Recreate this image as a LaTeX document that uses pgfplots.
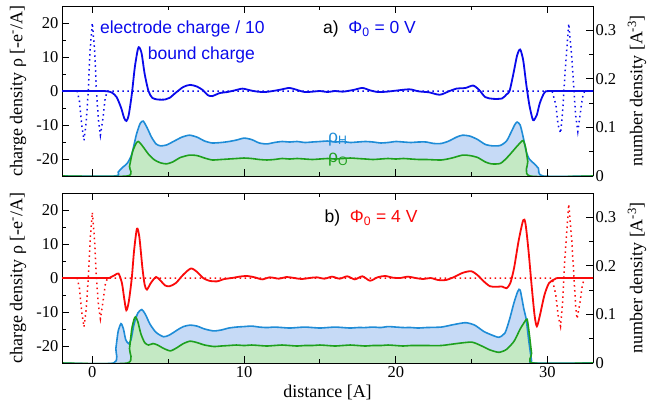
\documentclass[border=0pt]{standalone}
\usepackage{fontspec}
\setmainfont{Liberation Serif}
\newfontfamily\sansf{Liberation Sans}
\usepackage{pgfplots}
\pgfplotsset{compat=1.18}
\definecolor{hline}{RGB}{30,140,215}
\definecolor{hfill}{RGB}{198,218,246}
\definecolor{oline}{RGB}{30,160,30}
\definecolor{ofill}{RGB}{196,233,196}
\definecolor{bcol}{RGB}{10,10,235}
\definecolor{rcol}{RGB}{250,10,10}
\pgfplotsset{
  base/.style={scale only axis, width=531pt, height=170pt, xmin=-2, xmax=33,
    axis line style={line width=1pt},
    every tick/.style={line width=0.9pt, black},
    major tick length=7pt, minor tick length=4pt,
    tick label style={font=\rmfamily\fontsize{16.5}{19}\selectfont},
    /pgf/number format/assume math mode=true},
  leftax/.style={base, ymin=-25, ymax=25, axis y line*=left,
    ytick={-20,-10,0,10,20}, minor ytick={-15,-5,5,15},
    xtick={0,10,20,30}, minor xtick={5,15,25}, xtick pos=both, ytick pos=left},
  rightax/.style={base, ymin=0, ymax=0.35, axis y line*=right, axis x line=none,
    ytick={0,0.1,0.2,0.3}, minor ytick={0.05,0.15,0.25}, scaled y ticks=false,
    yticklabel style={/pgf/number format/fixed, xshift=-1pt}},
  cline/.style={line width=1.8pt, smooth, tension=0.45},
  dline/.style={line width=1.5pt, dash pattern=on 1.5pt off 3.5pt},
  dens/.style={line width=1.6pt, smooth, tension=0.4},
}
\begin{document}
\begin{tikzpicture}[x=1pt,y=1pt]
% ================= TOP PANEL =================
\begin{axis}[rightax, at={(62pt,-6pt)}, anchor=north west]
\addplot[fill=hfill, draw=none, smooth, tension=0.4] coordinates {
(-2,0)(1.5,0)(1.7,0.008)(2.0,0.018)(2.3,0.026)(2.6,0.045)(2.9,0.085)(3.15,0.108)(3.35,0.113)(3.6,0.1)(3.9,0.08)(4.2,0.066)(4.5,0.062)(4.9,0.064)(5.4,0.072)(5.9,0.08)(6.4,0.084)(6.9,0.08)(7.4,0.072)(7.9,0.068)(8.5,0.069)(9.0,0.071)(9.5,0.074)(10.0,0.078)(10.5,0.075)(11.0,0.068)(11.5,0.066)(12.0,0.069)(12.5,0.071)(13.0,0.070)(13.5,0.071)(14.0,0.069)(14.5,0.070)(15.0,0.071)(15.5,0.072)(16.0,0.070)(16.5,0.071)(17.0,0.069)(17.5,0.070)(18.0,0.071)(18.5,0.070)(19.0,0.068)(19.5,0.069)(20.0,0.071)(20.5,0.070)(21.0,0.069)(21.5,0.070)(22.0,0.070)(22.5,0.067)(23.0,0.067)(23.5,0.072)(24.0,0.080)(24.4,0.084)(24.9,0.082)(25.4,0.075)(25.9,0.065)(26.4,0.062)(26.9,0.063)(27.3,0.072)(27.6,0.09)(27.85,0.106)(28.0,0.111)(28.2,0.105)(28.4,0.08)(28.6,0.05)(28.8,0.035)(29.1,0.026)(29.4,0.016)(29.7,0)(33,0)} \closedcycle;
\addplot[fill=ofill, draw=none, smooth, tension=0.4] coordinates {
(-2,0)(2.3,0)(2.45,0.02)(2.65,0.05)(2.9,0.068)(3.05,0.071)(3.3,0.062)(3.7,0.045)(4.1,0.033)(4.5,0.027)(4.9,0.025)(5.3,0.029)(5.8,0.038)(6.4,0.043)(6.9,0.042)(7.4,0.037)(7.9,0.033)(8.5,0.034)(9.0,0.035)(9.5,0.036)(10.0,0.037)(10.5,0.036)(11.0,0.034)(11.5,0.033)(12.0,0.034)(12.5,0.036)(13.0,0.035)(13.5,0.036)(14.0,0.035)(14.5,0.034)(15.0,0.035)(15.5,0.036)(16.0,0.035)(16.5,0.036)(17.0,0.037)(17.5,0.036)(18.0,0.035)(18.5,0.034)(19.0,0.035)(19.5,0.036)(20.0,0.035)(20.5,0.036)(21.0,0.035)(21.5,0.034)(22.0,0.034)(23.0,0.033)(23.7,0.037)(24.4,0.043)(24.9,0.042)(25.4,0.038)(25.9,0.029)(26.3,0.025)(26.9,0.026)(27.4,0.04)(27.9,0.058)(28.25,0.07)(28.4,0.073)(28.55,0.06)(28.7,0.03)(28.85,0)(33,0)} \closedcycle;
\addplot[dens, hline] coordinates {
(-2,0)(1.5,0)(1.7,0.008)(2.0,0.018)(2.3,0.026)(2.6,0.045)(2.9,0.085)(3.15,0.108)(3.35,0.113)(3.6,0.1)(3.9,0.08)(4.2,0.066)(4.5,0.062)(4.9,0.064)(5.4,0.072)(5.9,0.08)(6.4,0.084)(6.9,0.08)(7.4,0.072)(7.9,0.068)(8.5,0.069)(9.0,0.071)(9.5,0.074)(10.0,0.078)(10.5,0.075)(11.0,0.068)(11.5,0.066)(12.0,0.069)(12.5,0.071)(13.0,0.070)(13.5,0.071)(14.0,0.069)(14.5,0.070)(15.0,0.071)(15.5,0.072)(16.0,0.070)(16.5,0.071)(17.0,0.069)(17.5,0.070)(18.0,0.071)(18.5,0.070)(19.0,0.068)(19.5,0.069)(20.0,0.071)(20.5,0.070)(21.0,0.069)(21.5,0.070)(22.0,0.070)(22.5,0.067)(23.0,0.067)(23.5,0.072)(24.0,0.080)(24.4,0.084)(24.9,0.082)(25.4,0.075)(25.9,0.065)(26.4,0.062)(26.9,0.063)(27.3,0.072)(27.6,0.09)(27.85,0.106)(28.0,0.111)(28.2,0.105)(28.4,0.08)(28.6,0.05)(28.8,0.035)(29.1,0.026)(29.4,0.016)(29.7,0)(33,0)};
\addplot[dens, oline] coordinates {
(-2,0)(2.3,0)(2.45,0.02)(2.65,0.05)(2.9,0.068)(3.05,0.071)(3.3,0.062)(3.7,0.045)(4.1,0.033)(4.5,0.027)(4.9,0.025)(5.3,0.029)(5.8,0.038)(6.4,0.043)(6.9,0.042)(7.4,0.037)(7.9,0.033)(8.5,0.034)(9.0,0.035)(9.5,0.036)(10.0,0.037)(10.5,0.036)(11.0,0.034)(11.5,0.033)(12.0,0.034)(12.5,0.036)(13.0,0.035)(13.5,0.036)(14.0,0.035)(14.5,0.034)(15.0,0.035)(15.5,0.036)(16.0,0.035)(16.5,0.036)(17.0,0.037)(17.5,0.036)(18.0,0.035)(18.5,0.034)(19.0,0.035)(19.5,0.036)(20.0,0.035)(20.5,0.036)(21.0,0.035)(21.5,0.034)(22.0,0.034)(23.0,0.033)(23.7,0.037)(24.4,0.043)(24.9,0.042)(25.4,0.038)(25.9,0.029)(26.3,0.025)(26.9,0.026)(27.4,0.04)(27.9,0.058)(28.25,0.07)(28.4,0.073)(28.55,0.06)(28.7,0.03)(28.85,0)(33,0)};
\end{axis}
\begin{axis}[leftax, name=top, at={(62pt,-6pt)}, anchor=north west, xticklabels={}]
\addplot[dline, bcol] coordinates {
(-2,0)(-1,0)(-0.85,-3)(-0.7,-10)(-0.55,-14.5)(-0.4,-9)(-0.27,0)(-0.15,12)(0,20)(0.15,12)(0.27,0)(0.4,-8.5)(0.53,-13)(0.7,-8)(0.85,-2)(1,0)(30.3,0)(30.55,-4)(30.7,-10)(30.86,-12.4)(31.0,-6)(31.15,5)(31.4,19.8)(31.6,10)(31.75,0)(31.85,-7)(32.0,-11.9)(32.15,-7)(32.3,-2)(32.45,0)(33,0)};
\addplot[cline, bcol] coordinates {
(-2,0)(0.5,0)(1.0,-0.1)(1.3,-0.5)(1.6,-1.8)(1.9,-5)(2.1,-8)(2.25,-8.8)(2.4,-7)(2.6,-1)(2.8,7)(3.0,12.3)(3.1,12.8)(3.25,11)(3.45,5)(3.7,0)(3.95,-2)(4.3,-2.5)(4.8,-2.5)(5.1,-2.0)(5.5,-0.5)(6.0,1.2)(6.45,1.8)(6.9,1.3)(7.3,0.2)(7.6,-1.2)(7.9,-1.5)(8.4,-0.6)(8.9,-0.3)(9.4,0.2)(9.9,0.7)(10.4,0.2)(10.9,-0.2)(11.4,-0.3)(11.9,0)(12.4,0.4)(13.0,0.9)(13.5,0.3)(14.0,-0.3)(14.5,-0.2)(15.0,0)(15.5,-0.3)(16.0,0)(16.5,-0.2)(17.2,0.3)(17.8,0.9)(18.3,0.2)(18.8,-0.3)(19.4,-0.2)(20.0,0.1)(20.9,0.5)(21.5,-0.1)(22.2,-0.4)(22.9,-1.1)(23.55,0)(24.0,0.7)(24.6,0.9)(25.1,1.6)(25.5,0.3)(25.9,-1.8)(26.4,-2.3)(27.0,-2.2)(27.3,-1)(27.5,0)(27.75,5)(28.0,10.5)(28.2,12.2)(28.4,9)(28.6,2)(28.8,-4)(29.0,-8)(29.1,-8.6)(29.3,-7)(29.5,-3.5)(29.8,-0.5)(30.2,0)(33,0)};
\node[anchor=west, inner sep=0, bcol, font=\sansf\fontsize{17.5}{20}\selectfont] at (axis cs:0.5,18.1) {electrode charge / 10};
\node[anchor=west, inner sep=0, bcol, font=\sansf\fontsize{17.5}{20}\selectfont] at (axis cs:3.65,10.5) {bound charge};
\node[anchor=west, inner sep=0, font=\sansf\fontsize{17.5}{20}\selectfont] at (axis cs:15.2,18.1) {a)\ \ \textcolor{bcol}{Φ\textsubscript{0} = 0 V}};
\node[anchor=west, inner sep=0.5pt, text=hline, font=\sansf\fontsize{17.5}{20}\selectfont] at (axis cs:15.5,-14.2) {ρ\textsubscript{H}};
\node[anchor=west, inner sep=0.5pt, text=oline, font=\sansf\fontsize{17.5}{20}\selectfont] at (axis cs:15.5,-20.3) {ρ\textsubscript{O}};
\end{axis}
% ================= BOTTOM PANEL =================
\begin{axis}[rightax, at={(62pt,-193pt)}, anchor=north west]
\addplot[fill=hfill, draw=none, smooth, tension=0.4] coordinates {
(-2,0)(1.4,0)(1.55,0.03)(1.7,0.065)(1.89,0.081)(2.05,0.07)(2.2,0.048)(2.39,0.040)(2.55,0.048)(2.75,0.08)(3.0,0.103)(3.26,0.110)(3.5,0.1)(3.8,0.08)(4.2,0.063)(4.7,0.054)(5.1,0.058)(5.6,0.068)(6.0,0.075)(6.45,0.078)(6.9,0.076)(7.4,0.07)(8.0,0.066)(8.5,0.068)(9.0,0.072)(9.5,0.074)(10.0,0.075)(10.5,0.076)(11.0,0.074)(11.5,0.073)(12.0,0.074)(12.5,0.073)(13.0,0.072)(13.5,0.073)(14.0,0.074)(14.5,0.073)(15.0,0.072)(15.5,0.073)(16.0,0.074)(16.5,0.073)(17.0,0.072)(17.5,0.073)(18.0,0.073)(18.5,0.074)(19.0,0.073)(19.5,0.075)(20.0,0.074)(20.5,0.073)(21.0,0.073)(21.5,0.072)(22.0,0.073)(23.0,0.074)(23.8,0.079)(24.6,0.083)(25.2,0.078)(25.8,0.065)(26.3,0.058)(26.8,0.053)(27.2,0.062)(27.5,0.09)(27.8,0.125)(28.05,0.148)(28.2,0.150)(28.45,0.11)(28.6,0.09)(28.75,0.05)(28.95,0.005)(29.05,0)(33,0)} \closedcycle;
\addplot[fill=ofill, draw=none, smooth, tension=0.4] coordinates {
(-2,0)(2.3,0)(2.45,0.03)(2.6,0.07)(2.75,0.09)(2.85,0.095)(3.0,0.085)(3.2,0.06)(3.45,0.042)(3.7,0.037)(4.0,0.04)(4.3,0.037)(4.7,0.03)(5.15,0.025)(5.6,0.032)(6.0,0.04)(6.45,0.045)(6.9,0.042)(7.4,0.037)(8.0,0.034)(8.5,0.035)(9.0,0.036)(9.5,0.037)(10.0,0.036)(10.5,0.037)(11.0,0.036)(11.5,0.035)(12.0,0.036)(12.5,0.037)(13.0,0.036)(13.5,0.035)(14.0,0.036)(14.5,0.036)(15.0,0.037)(15.5,0.036)(16.0,0.035)(16.5,0.036)(17.0,0.037)(17.5,0.036)(18.0,0.035)(18.5,0.036)(19.0,0.036)(19.5,0.037)(20.0,0.036)(20.5,0.035)(21.0,0.036)(22.0,0.036)(23.0,0.036)(24.0,0.04)(25.0,0.043)(25.6,0.036)(26.2,0.027)(26.8,0.022)(27.3,0.028)(27.8,0.045)(28.2,0.07)(28.5,0.085)(28.66,0.09)(28.8,0.06)(28.95,0.02)(29.05,0)(33,0)} \closedcycle;
\addplot[dens, hline] coordinates {
(-2,0)(1.4,0)(1.55,0.03)(1.7,0.065)(1.89,0.081)(2.05,0.07)(2.2,0.048)(2.39,0.040)(2.55,0.048)(2.75,0.08)(3.0,0.103)(3.26,0.110)(3.5,0.1)(3.8,0.08)(4.2,0.063)(4.7,0.054)(5.1,0.058)(5.6,0.068)(6.0,0.075)(6.45,0.078)(6.9,0.076)(7.4,0.07)(8.0,0.066)(8.5,0.068)(9.0,0.072)(9.5,0.074)(10.0,0.075)(10.5,0.076)(11.0,0.074)(11.5,0.073)(12.0,0.074)(12.5,0.073)(13.0,0.072)(13.5,0.073)(14.0,0.074)(14.5,0.073)(15.0,0.072)(15.5,0.073)(16.0,0.074)(16.5,0.073)(17.0,0.072)(17.5,0.073)(18.0,0.073)(18.5,0.074)(19.0,0.073)(19.5,0.075)(20.0,0.074)(20.5,0.073)(21.0,0.073)(21.5,0.072)(22.0,0.073)(23.0,0.074)(23.8,0.079)(24.6,0.083)(25.2,0.078)(25.8,0.065)(26.3,0.058)(26.8,0.053)(27.2,0.062)(27.5,0.09)(27.8,0.125)(28.05,0.148)(28.2,0.150)(28.45,0.11)(28.6,0.09)(28.75,0.05)(28.95,0.005)(29.05,0)(33,0)};
\addplot[dens, oline] coordinates {
(-2,0)(2.3,0)(2.45,0.03)(2.6,0.07)(2.75,0.09)(2.85,0.095)(3.0,0.085)(3.2,0.06)(3.45,0.042)(3.7,0.037)(4.0,0.04)(4.3,0.037)(4.7,0.03)(5.15,0.025)(5.6,0.032)(6.0,0.04)(6.45,0.045)(6.9,0.042)(7.4,0.037)(8.0,0.034)(8.5,0.035)(9.0,0.036)(9.5,0.037)(10.0,0.036)(10.5,0.037)(11.0,0.036)(11.5,0.035)(12.0,0.036)(12.5,0.037)(13.0,0.036)(13.5,0.035)(14.0,0.036)(14.5,0.036)(15.0,0.037)(15.5,0.036)(16.0,0.035)(16.5,0.036)(17.0,0.037)(17.5,0.036)(18.0,0.035)(18.5,0.036)(19.0,0.036)(19.5,0.037)(20.0,0.036)(20.5,0.035)(21.0,0.036)(22.0,0.036)(23.0,0.036)(24.0,0.04)(25.0,0.043)(25.6,0.036)(26.2,0.027)(26.8,0.022)(27.3,0.028)(27.8,0.045)(28.2,0.07)(28.5,0.085)(28.66,0.09)(28.8,0.06)(28.95,0.02)(29.05,0)(33,0)};
\end{axis}
\begin{axis}[leftax, name=bot, at={(62pt,-193pt)}, anchor=north west]
\addplot[dline, rcol] coordinates {
(-2,0)(-1,0)(-0.85,-3)(-0.7,-10)(-0.55,-14.4)(-0.4,-9)(-0.27,0)(-0.15,11)(0,19.3)(0.15,11)(0.27,0)(0.4,-8)(0.53,-12)(0.7,-7)(0.85,-2)(1,0)(30.3,0)(30.55,-5)(30.7,-11)(30.86,-14.2)(31.0,-7)(31.15,6)(31.4,21.7)(31.6,11)(31.75,0)(31.85,-8)(31.95,-12)(32.15,-7)(32.3,-2)(32.45,0)(33,0)};
\addplot[cline, rcol] coordinates {
(-2,0)(0.9,0)(1.2,0.2)(1.5,0.9)(1.73,1.3)(1.95,-1.5)(2.1,-6)(2.24,-9.5)(2.4,-7)(2.6,0)(2.75,8)(2.94,14.5)(3.1,12)(3.3,3)(3.45,-2)(3.6,-3.4)(3.85,-1.5)(4.2,0.3)(4.5,-0.8)(4.8,-2.2)(5.1,-2.4)(5.5,-1.5)(6.0,1)(6.5,2.8)(6.9,1.8)(7.3,0)(7.7,-0.8)(8.2,-1)(8.7,-0.3)(9.2,0)(9.7,0.4)(10.2,0.6)(10.7,0.2)(11.2,-0.4)(11.7,0.2)(12.3,-0.2)(12.8,0.3)(13.3,0)(13.8,-0.3)(14.3,0)(14.8,0.2)(15.3,-0.2)(15.8,0.4)(16.3,-0.2)(16.8,0.5)(17.3,-0.4)(17.8,0.5)(18.3,-0.8)(18.8,0.2)(19.3,0.6)(19.8,0.1)(20.3,0)(20.8,0.4)(21.3,0)(21.8,-0.3)(22.3,0)(22.8,-0.6)(23.3,-0.6)(23.8,0.2)(24.4,1.5)(24.97,2.0)(25.4,0.8)(25.8,-1.0)(26.2,-2.4)(26.6,-2.6)(27.0,-2.5)(27.3,-3.0)(27.55,-1.5)(27.8,3)(28.1,11)(28.4,17)(28.55,16)(28.75,8)(28.95,-2)(29.15,-11)(29.3,-14.2)(29.5,-11)(29.8,-5)(30.1,-1.5)(30.5,-0.3)(30.8,0)(33,0)};
\node[anchor=west, inner sep=0, font=\sansf\fontsize{17.5}{20}\selectfont] at (axis cs:15.3,17.6) {b)\ \ \textcolor{rcol}{Φ\textsubscript{0} = 4 V}};
\end{axis}
% ---- axis labels (outside the clipped axes) ----
\node[rotate=90, font=\fontsize{18}{21}\selectfont] at ([xshift=-44pt]top.west) {charge density ρ [-e\textsuperscript{-}/A]};
\node[rotate=90, font=\fontsize{18}{21}\selectfont] at ([xshift=44pt]top.east) {number density [A\textsuperscript{-3}]};
\node[rotate=90, font=\fontsize{18}{21}\selectfont] at ([xshift=-44pt]bot.west) {charge density ρ [-e\textsuperscript{-}/A]};
\node[rotate=90, font=\fontsize{18}{21}\selectfont] at ([xshift=44pt]bot.east) {number density [A\textsuperscript{-3}]};
\node[font=\fontsize{18}{21}\selectfont] at ([yshift=-29pt]bot.south) {distance [A]};
\pgfresetboundingbox
\path[use as bounding box] (0,0) rectangle (650pt,-402pt);
\end{tikzpicture}
\end{document}
